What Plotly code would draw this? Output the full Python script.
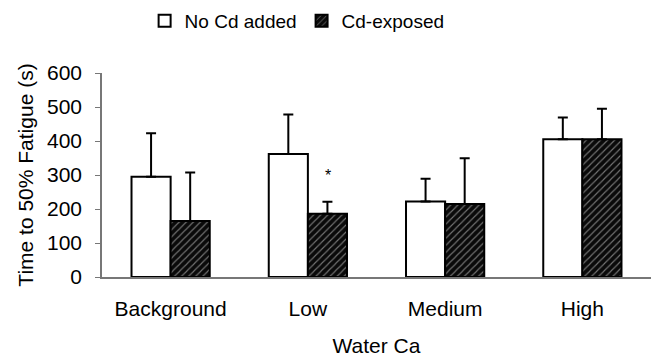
import plotly.graph_objects as go

categories = ["Background", "Low", "Medium", "High"]
no_cd = [295, 362, 222, 405]
no_cd_err = [128, 116, 67, 64]
cd_exposed = [165, 186, 215, 405]
cd_exposed_err = [142, 35, 134, 90]
y_ticks = [0, 100, 200, 300, 400, 500, 600]

FONT = "Liberation Sans, Arial, sans-serif"

fig = go.Figure()
fig.add_trace(go.Bar(
    name="No Cd added", x=categories, y=no_cd,
    marker=dict(color="white", line=dict(color="black", width=2)),
    error_y=dict(type="data", array=no_cd_err, symmetric=False,
                 arrayminus=[0]*4, color="black", thickness=2, width=5),
))
fig.add_trace(go.Bar(
    name="Cd-exposed", x=categories, y=cd_exposed,
    marker=dict(color="#0a0a0a", line=dict(color="black", width=2),
                pattern=dict(shape="/", fgcolor="#dddddd", bgcolor="#0a0a0a",
                             size=5, solidity=0.22)),
    error_y=dict(type="data", array=cd_exposed_err, symmetric=False,
                 arrayminus=[0]*4, color="black", thickness=2, width=5),
))

fig.add_annotation(x=1, y=300, xshift=20, text="*", showarrow=False,
                   font=dict(size=16, color="black", family=FONT))

fig.update_layout(
    width=653, height=358,
    margin=dict(l=102, r=2, t=73, b=81),
    barmode="group", bargap=0.43, bargroupgap=0,
    plot_bgcolor="white", paper_bgcolor="white",
    font=dict(family=FONT, size=21, color="black"),
    showlegend=True,
    legend=dict(orientation="h", xref="container", yref="container",
                x=0.455, xanchor="center", y=0.995, yanchor="top",
                font=dict(size=19), itemwidth=30, traceorder="normal"),
    xaxis=dict(showline=True, linecolor="#777777", linewidth=1.5,
               ticks="", ticklabelstandoff=12,
               title=dict(text="Water Ca", standoff=19, font=dict(size=21)),
               tickfont=dict(size=21)),
    yaxis=dict(range=[0, 600], tickvals=y_ticks, showline=True,
               linecolor="#777777", linewidth=1.5, ticks="outside",
               ticklen=5, tickcolor="#777777", showgrid=False, zeroline=False,
               ticklabelstandoff=9,
               title=dict(text="Time to 50% Fatigue (s)", standoff=8,
                          font=dict(size=21)),
               tickfont=dict(size=21)),
)

fig.write_html("out.html")
